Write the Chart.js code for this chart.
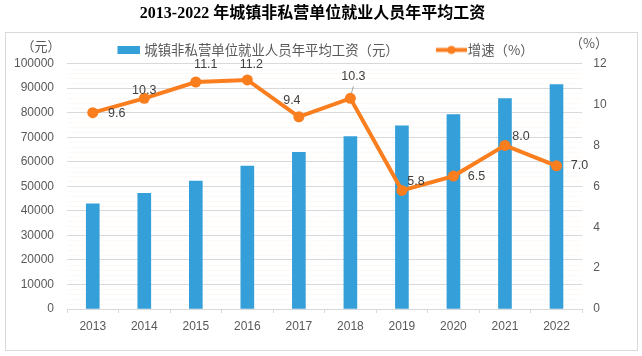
<!DOCTYPE html>
<html>
<head>
<meta charset="utf-8">
<script src="https://cdn.jsdelivr.net/npm/chart.js@4/dist/chart.umd.min.js"></script>
<style>
html,body{margin:0;padding:0;background:#fff;}
#wrap{width:642px;height:356px;position:relative;}
</style>
</head>
<body>
<div id="wrap"><canvas id="c" width="642" height="356"></canvas></div>
<script>
// ---- data ----
const years = ['2013','2014','2015','2016','2017','2018','2019','2020','2021','2022'];
const wages = [42900, 47100, 52100, 58200, 63800, 70300, 74600, 79200, 85700, 91400];
const growth = [9.6, 10.3, 11.1, 11.2, 9.4, 10.3, 5.8, 6.5, 8.0, 7.0];
const wageAxisMax = 100000, wageStep = 10000;
const growthAxisMax = 12, growthStep = 2;
const titleText = '2013-2022 年城镇非私营单位就业人员年平均工资';
const wageLabel = '城镇非私营单位就业人员年平均工资（元）';
const growthLabel = '增速（%）';
const leftUnit = '（元）';
const rightUnit = '（%）';

// ---- styles ----
const BAR = '#349FD8';
const LINE = '#FA7D1E';
const GRID = '#d9d9d9';
const TXT = '#595959';
const SANS = "'Liberation Sans','Noto Sans CJK SC',sans-serif";
const CJK = "'Noto Sans CJK SC','Liberation Sans',sans-serif";
const labelOffsets = [[24,1],[0,-8],[10,-17],[4,-15],[-7,-16],[3,-22],[14,-9],[23,0],[16,-9],[23,0]];
const legendShift = 3;

// legend images
function makeBarImg(){
  const c = document.createElement('canvas'); c.width = 52; c.height = 8;
  const g = c.getContext('2d'); g.fillStyle = BAR; g.fillRect(29,0,23,8); return c;
}
function makeLineImg(){
  const c = document.createElement('canvas'); c.width = 58; c.height = 11;
  const g = c.getContext('2d'); g.strokeStyle = LINE; g.lineWidth = 4;
  g.beginPath(); g.moveTo(27,5.5); g.lineTo(58,5.5); g.stroke();
  g.fillStyle = LINE; g.beginPath(); g.arc(42.5,5.5,4,0,Math.PI*2); g.fill(); return c;
}
const barImg = makeBarImg();
const lineImg = makeLineImg();

const framePlugin = {
  id:'frame',
  afterLayout(chart){
    if (chart.legend){ chart.legend._baseTop = chart.legend.top; }
  },
  beforeDraw(chart){
    const lg = chart.legend;
    if (lg && lg._baseTop !== undefined){
      const d = lg._baseTop + legendShift - lg.top;
      if (d){
        lg.top += d; lg.bottom += d;
        (lg.legendHitBoxes || []).forEach(h => { h.top += d; });
      }
    }
    const ctx = chart.ctx; ctx.save();
    ctx.fillStyle = '#fff'; ctx.fillRect(0,0,chart.width,chart.height);
    ctx.strokeStyle = GRID; ctx.lineWidth = 1;
    ctx.strokeRect(5.5,32.5,632,318);
    ctx.restore();
  },
  beforeDatasetsDraw(chart){
    const y = chart.scales.y, a = chart.chartArea, ctx = chart.ctx;
    ctx.save(); ctx.strokeStyle = 'rgba(250,220,200,0.18)'; ctx.lineWidth = 1;
    for (let v = 2000; v < wageAxisMax; v += 2000){
      if (v % wageStep === 0) continue;
      const py = Math.round(y.getPixelForValue(v)) + 0.5;
      ctx.beginPath(); ctx.moveTo(a.left, py); ctx.lineTo(a.right, py); ctx.stroke();
    }
    ctx.restore();
  },
  afterDatasetsDraw(chart){
    const ctx = chart.ctx;
    const meta = chart.getDatasetMeta(1);
    ctx.save();
    ctx.font = '12.5px ' + SANS; ctx.fillStyle = '#404040';
    ctx.textAlign = 'center'; ctx.textBaseline = 'middle';
    meta.data.forEach((pt, i) => {
      const [dx, dy] = labelOffsets[i];
      ctx.fillText(growth[i].toFixed(1), pt.x + dx, pt.y + dy);
    });
    // leader line for 2018 label
    const p = meta.data[5];
    ctx.strokeStyle = '#a6a6a6'; ctx.lineWidth = 1;
    ctx.beginPath(); ctx.moveTo(p.x + 3, p.y - 12); ctx.lineTo(p.x + 1, p.y - 5); ctx.stroke();
    // axis units
    ctx.font = '13px ' + CJK; ctx.fillStyle = TXT;
    ctx.fillText(leftUnit, 41, 46.5);
    ctx.fillText(rightUnit, 589, 43);
    ctx.restore();
  }
};

new Chart(document.getElementById('c'), {
  data: {
    labels: years,
    datasets: [
      { type:'bar', label: wageLabel, data: wages, yAxisID:'y', backgroundColor: BAR,
        barThickness: 13, order: 1 },
      { type:'line', label: growthLabel, data: growth, yAxisID:'y1', borderColor: LINE,
        backgroundColor: LINE, borderWidth: 4, pointRadius: 5.5, pointBackgroundColor: LINE,
        pointBorderWidth: 0, tension: 0, order: 0 }
    ]
  },
  options: {
    responsive: false, animation: false, devicePixelRatio: 1,
    layout: { padding: { left: 0, right: 17, top: 4, bottom: 0 } },
    plugins: {
      tooltip: { enabled: false },
      title: { display: true, text: titleText, color: '#000',
        font: { size: 16, weight: 'bold', family: "'Liberation Serif','Noto Sans CJK SC',serif" },
        padding: { top: 0, bottom: 1 } },
      legend: {
        display: true, position: 'top',
        labels: {
          usePointStyle: true, pointStyleWidth: 46.3, padding: 16, color: TXT,
          font: { size: 13.4, family: CJK },
          generateLabels(chart){
            return [
              { text: wageLabel, fillStyle: BAR, strokeStyle: BAR, lineWidth: 0, pointStyle: barImg, datasetIndex: 0, hidden: false, fontColor: TXT },
              { text: growthLabel, fillStyle: LINE, strokeStyle: LINE, lineWidth: 0, pointStyle: lineImg, datasetIndex: 1, hidden: false, fontColor: TXT }
            ];
          }
        }
      }
    },
    scales: {
      x: {
        grid: { display: true, drawOnChartArea: false, drawTicks: true, tickLength: 4, color: GRID },
        border: { display: true, color: GRID },
        ticks: { color: TXT, font: { size: 12, family: SANS }, padding: 6, maxRotation: 0 },
        afterFit(s){ s.height = 47; }
      },
      y: {
        position: 'left', min: 0, max: wageAxisMax,
        ticks: { stepSize: wageStep, color: TXT, font: { size: 12, family: SANS }, padding: 13,
          callback: v => String(v) },
        grid: { color: GRID, drawTicks: false },
        border: { display: false },
        afterFit(s){ s.width = 67; }
      },
      y1: {
        position: 'right', min: 0, max: growthAxisMax,
        ticks: { stepSize: growthStep, color: TXT, font: { size: 12, family: SANS }, padding: 11,
          callback: v => String(v) },
        grid: { drawOnChartArea: false, drawTicks: false },
        border: { display: false },
        afterFit(s){ s.width = 42.75; }
      }
    }
  },
  plugins: [framePlugin]
});
</script>
</body>
</html>
